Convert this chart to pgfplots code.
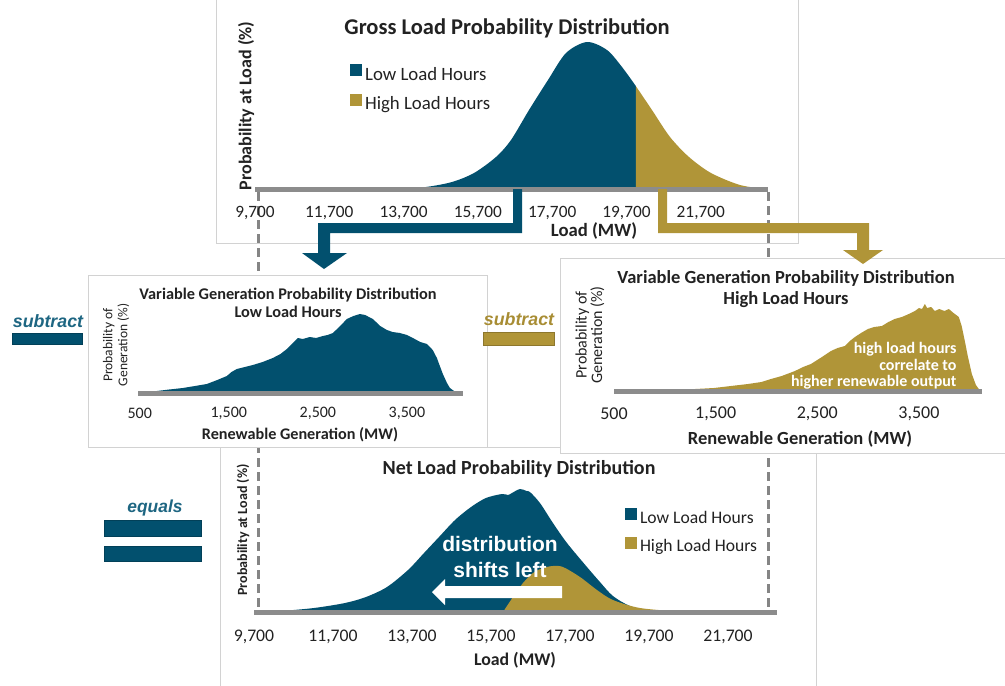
\documentclass[border=0pt]{standalone}
\usepackage{pgfplots}
\pgfplotsset{compat=1.18}
\usepackage{fontspec}
\setmainfont{Carlito}
\newfontfamily\arialf{Liberation Sans}
\definecolor{navy}{HTML}{02506E}
\definecolor{gold}{HTML}{B09538}
\definecolor{axgray}{HTML}{8C8C8C}
\definecolor{boxgray}{HTML}{D2D2D2}
\definecolor{dashgray}{HTML}{858585}
\definecolor{navytxt}{HTML}{1E6682}
\definecolor{goldtxt}{HTML}{A88D34}
\definecolor{txt}{HTML}{222222}
\newcommand{\fs}[1]{\fontsize{#1}{#1}\selectfont}

\pgfplotsset{
  panel/.style={
    scale only axis,
    axis on top,
    axis x line*=bottom,
    axis y line=none,
    x axis line style={draw=axgray, line width=5pt, -},
    ymin=0,
    ytick=\empty,
    scaled x ticks=false,
    major tick length=0pt,
    tick style={draw=none},
    clip=false,
    legend cell align=left,
    legend image code/.code={\fill[##1] (0pt,-2pt) rectangle (12pt,10pt);},
    every tick label/.append style={text=txt},
  },
}

\begin{document}
\begin{tikzpicture}
\useasboundingbox (0,0) rectangle (1005pt,-686pt);

% ---------- boxes behind ----------
\begin{scope}[x=1pt,y=-1pt]
\draw[boxgray, fill=white, line width=1pt] (216,-3) rectangle (798,243);
\draw[boxgray, fill=white, line width=1pt] (220,447) rectangle (816,690);
\draw[dashgray, line width=3pt, dash pattern=on 9pt off 5pt] (258,192) -- (258,614);
\draw[dashgray, line width=3pt, dash pattern=on 9pt off 5pt] (768,192) -- (768,614);
\draw[boxgray, fill=white, line width=1pt] (88.5,275) rectangle (487,447);
\draw[boxgray, fill=white, line width=1pt] (560,258) rectangle (1010,453);
\end{scope}

% ---------- top: gross load ----------
\begin{axis}[panel, at={(255pt,-189pt)}, anchor=south west, width=513pt, height=147pt,
  xmin=9700, xmax=23509, ymax=147,
  xtick={9700,11700,13700,15700,17700,19700,21700},
  xticklabels={{9,700},{11,700},{13,700},{15,700},{17,700},{19,700},{21,700}},
  xticklabel style={anchor=center, yshift=-24pt, font=\fs{17.3}},
  legend style={at={(0.185,0.85)}, anchor=north west, draw=none, fill=none,
    font=\fs{18.8}, row sep=10pt, column sep=1pt, inner sep=0pt, text=txt},
]
\addplot[draw=none, fill=navy, smooth] coordinates {
(13600,0) (14300,2) (15003,7) (15595,16) (16187,32) (16591,49) (17076,79)
(17587,109) (18072,136) (18637,147) (19175,139) (19579,122) (19950,103)} \closedcycle;
\addplot[draw=none, fill=gold, smooth] coordinates {
(19950,103) (20386,79) (20871,52) (21382,32) (21975,16) (22755,4) (23455,0)} \closedcycle;
\legend{Low Load Hours, High Load Hours}
\end{axis}

% ---------- middle left ----------
\begin{axis}[panel, at={(138pt,-393pt)}, anchor=south west, width=325pt, height=80pt,
  xmin=480, xmax=4130, ymax=80,
  xtick={500,1500,2500,3500},
  xticklabels={{500},{1,500},{2,500},{3,500}},
  xticklabel style={anchor=center, yshift=-20pt, font=\fs{16}},
]
\addplot[draw=none, fill=navy] coordinates {
(520,0) (534,1) (691,2) (830,3.5) (983,5) (1120,7) (1253,9) (1370,13) (1478,17)
(1530,21) (1590,24) (1680,26) (1770,28) (1880,31) (1994,35) (2080,39) (2152,44)
(2220,50) (2275,55) (2330,54) (2410,56) (2480,55) (2556,57) (2610,58) (2669,60)
(2750,67) (2826,74) (2900,77) (2972,79) (3030,78) (3118,74) (3200,67) (3275,63)
(3340,61) (3421,60) (3500,58) (3567,55) (3650,51) (3725,49) (3790,43) (3837,35)
(3870,27) (3904,19) (3950,10) (3983,5) (4030,2) (4062,0)} \closedcycle;
\end{axis}

% ---------- middle right ----------
\begin{axis}[panel, at={(614pt,-391pt)}, anchor=south west, width=368pt, height=90pt,
  xmin=500, xmax=4120, ymax=90,
  xtick={500,1500,2500,3500},
  xticklabels={{500},{1,500},{2,500},{3,500}},
  xticklabel style={anchor=center, yshift=-23pt, font=\fs{18}},
]
\addplot[draw=none, fill=gold] coordinates {
(700,0) (1021,1) (1300,2) (1483,3) (1650,5) (1818,7) (1950,9) (2044,12) (2150,15)
(2280,20) (2360,24) (2437,27) (2530,33) (2634,40) (2700,43) (2771,45) (2820,50)
(2870,54) (2930,58) (2998,62) (3060,64) (3135,65) (3200,69) (3260,72) (3332,74)
(3400,77) (3460,80) (3500,83) (3530,82) (3558,87) (3580,83) (3620,84) (3656,80)
(3700,82) (3750,80) (3794,82) (3840,78) (3892,74) (3920,65) (3951,50) (3980,35)
(4020,17) (4060,6) (4089,2) (4118,0)} \closedcycle;
\end{axis}

% ---------- bottom: net load ----------
\begin{axis}[panel, at={(254pt,-612pt)}, anchor=south west, width=523pt, height=123pt,
  xmin=9700, xmax=22940, ymax=123,
  xtick={9700,11700,13700,15700,17700,19700,21700},
  xticklabels={{9,700},{11,700},{13,700},{15,700},{17,700},{19,700},{21,700}},
  xticklabel style={anchor=center, yshift=-25pt, font=\fs{17.7}},
  legend style={at={(0.709,0.85)}, anchor=north west, draw=none, fill=none,
    font=\fs{17.6}, row sep=10pt, column sep=1pt, inner sep=0pt, text=txt},
]
\addplot[draw=none, fill=navy, smooth] coordinates {
(10156,0) (10409,1) (11219,4) (12004,9) (12535,15) (13067,25) (13599,42) (14004,59)
(14384,75) (14789,92) (15194,105) (15573,114) (15978,118) (16130,117) (16230,119)
(16434,123) (16600,121) (16686,120) (16939,109) (17268,89) (17623,69) (18129,45)
(18458,30) (18787,16) (19218,6) (19725,1) (20231,0)} \closedcycle;
\addplot[draw=none, fill=gold, smooth] coordinates {
(16004,0) (16257,15) (16510,29) (16763,39) (17016,44) (17268,46) (17522,45)
(17953,35) (18383,22) (18787,12) (19471,4) (20484,0.5) (20990,0)} \closedcycle;
\legend{Low Load Hours, High Load Hours}
\end{axis}

% ---------- overlays ----------
\begin{scope}[x=1pt,y=-1pt, text=txt]
% arrows
\fill[navy] (513,189) -- (522,189) -- (522,233) -- (330,233) -- (330,253) -- (347,253)
  -- (324,269) -- (302,253) -- (318,253) -- (318,223) -- (513,223) -- cycle;
\fill[gold] (658,189) -- (667,189) -- (667,223) -- (869,223) -- (869,250) -- (883,250)
  -- (863,264) -- (843,250) -- (857,250) -- (857,233) -- (658,233) -- cycle;
% white arrow in net load
\fill[white] (562,586) -- (445,586) -- (445,579) -- (432,592) -- (445,605) -- (445,598) -- (562,598) -- cycle;

% titles
\node[font=\fs{22.5}\bfseries] at (507,28) {Gross Load Probability Distribution};
\node[font=\fs{16.3}\bfseries, align=center] at (288,303) {Variable Generation Probability Distribution\\[2pt]Low Load Hours};
\node[font=\fs{18.5}\bfseries, align=center] at (786,289) {Variable Generation Probability Distribution\\[3pt]High Load Hours};
\node[font=\fs{20}\bfseries] at (519,469) {Net Load Probability Distribution};

% x labels
\node[font=\fs{18.7}\bfseries] at (594,231) {Load (MW)};
\node[font=\fs{16.2}\bfseries] at (300,435) {Renewable Generation (MW)};
\node[font=\fs{18.5}\bfseries] at (800,439) {Renewable Generation (MW)};
\node[font=\fs{17.8}\bfseries] at (515,660) {Load (MW)};

% y labels
\node[font=\fs{18}\bfseries, rotate=90] at (246,106) {Probability at Load (\%)};
\node[font=\fontsize{13.5}{15}\selectfont, rotate=90, align=center] at (116,345) {Probability of\\Generation (\%)};
\node[font=\fontsize{16}{15.5}\selectfont, rotate=90, align=center] at (590,335) {Probability of\\Generation (\%)};
\node[font=\fs{14}\bfseries, rotate=90] at (243,530) {Probability at Load (\%)};

% annotations
\node[font=\fontsize{16}{16.5}\selectfont\bfseries, text=white, align=right, anchor=east] at (960,366)
  {high load hours\\correlate to\\higher renewable output};
\node[font=\fontsize{21}{26}\selectfont\arialf\bfseries, text=white, align=center] at (500,557)
  {distribution\\shifts left};

% side operators
\node[font=\fs{17.8}\arialf\bfseries\itshape, text=navytxt] at (48,321) {subtract};
\draw[navy!80!black, fill=navy, line width=0.8pt] (12,333) rectangle (82,344);
\node[font=\fs{17.8}\arialf\bfseries\itshape, text=goldtxt] at (519,319) {subtract};
\draw[gold!80!black, fill=gold, line width=0.8pt] (483,332) rectangle (554,345);
\node[font=\fs{17.4}\arialf\bfseries\itshape, text=navytxt] at (155,508) {equals};
\draw[navy!80!black, fill=navy, line width=0.8pt] (104,520) rectangle (201,536);
\draw[navy!80!black, fill=navy, line width=0.8pt] (104,546) rectangle (201,561);
\end{scope}
\end{tikzpicture}
\end{document}
